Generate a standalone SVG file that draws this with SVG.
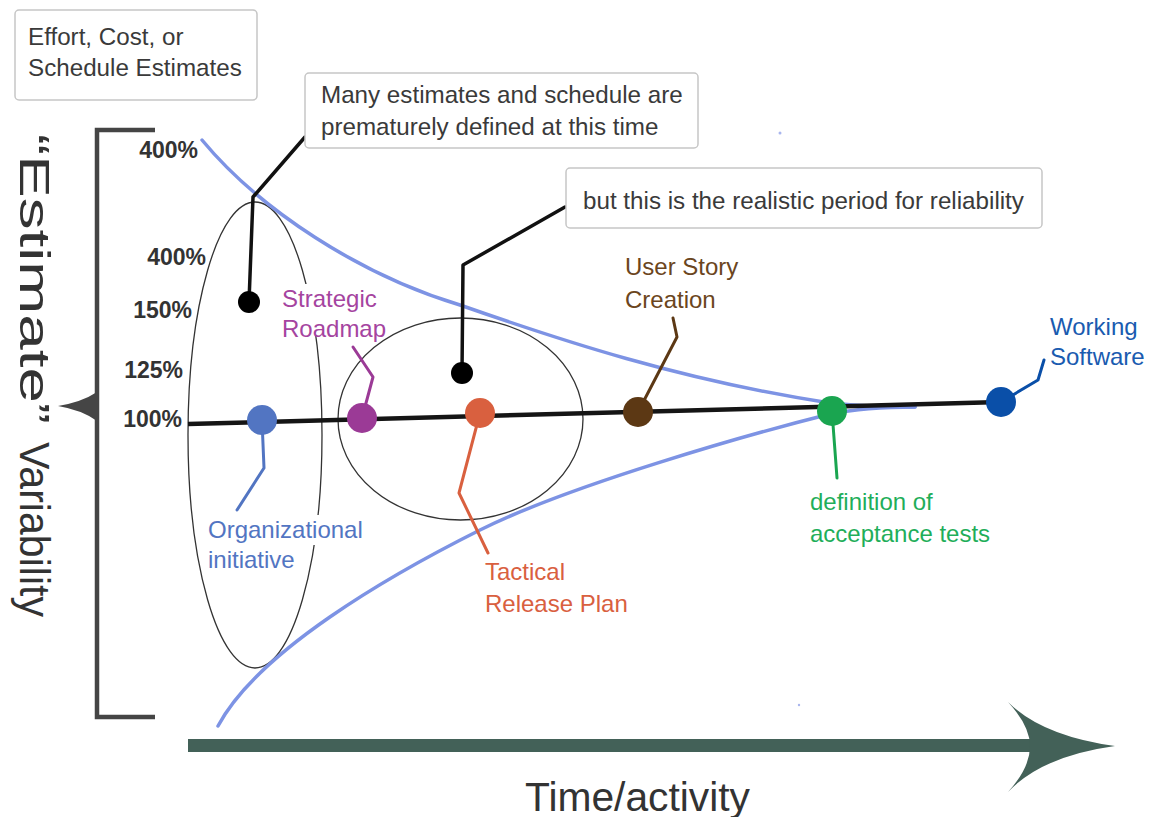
<svg xmlns="http://www.w3.org/2000/svg" width="1154" height="817" viewBox="0 0 1154 817">
  <style>
    text { font-family: "Liberation Sans", Arial, sans-serif; }
    .box { fill: #fff; stroke: #c6c6c6; stroke-width: 1.5; }
    .note { font-size: 24.2px; fill: #3a3a3a; }
    .pct { font-size: 23px; font-weight: bold; fill: #333; text-anchor: end; }
    .lbl { font-size: 24px; }
    .ring { fill: none; stroke: #333; stroke-width: 1.3; }
    .cone { fill: none; stroke: #7d93e4; stroke-width: 3.5; stroke-linecap: round; }
    .lead { fill: none; stroke-width: 3; stroke-linejoin: round; stroke-linecap: round; }
    .blackLead { fill: none; stroke: #111; stroke-width: 3.5; stroke-linejoin: round; stroke-linecap: round; }
    .axisTitle { font-size: 42px; fill: #333; }
    .bg { fill: #fff; }
  </style>

  <!-- vertical scale bracket and its label -->
  <g id="y-axis">
    <path d="M155,130 L97,130 L97,717 L155,717" fill="none" stroke="#454545" stroke-width="4.5"/>
    <path d="M97,392 Q82,402 58,406 Q82,410 97,421 Z" fill="#454545"/>
    <text class="axisTitle" transform="translate(20,0) rotate(90)">
      <tspan x="134" y="0" textLength="290" lengthAdjust="spacingAndGlyphs">“Estimate”</tspan>
      <tspan x="442" y="0" textLength="175" lengthAdjust="spacingAndGlyphs">Variability</tspan>
    </text>
    <text class="pct" x="198" y="158">400%</text>
    <text class="pct" x="206" y="265">400%</text>
    <text class="pct" x="192" y="318">150%</text>
    <text class="pct" x="183" y="378">125%</text>
    <text class="pct" x="182" y="427">100%</text>
  </g>

  <!-- time axis -->
  <g id="x-axis">
    <rect x="188" y="739" width="842" height="13" fill="#436158"/>
    <path d="M1008,702 Q1042,736 1115,746 Q1042,756 1008,792 Q1030,768 1030,746 Q1030,726 1008,702 Z" fill="#436158"/>
    <text x="525" y="811" font-size="40" fill="#333" textLength="225" lengthAdjust="spacingAndGlyphs">Time/activity</text>
  </g>

  <!-- estimate legend box -->
  <g id="legend">
    <rect class="box" x="15" y="10" width="242" height="90" rx="4"/>
    <text class="note" x="28" y="45">Effort, Cost, or</text>
    <text class="note" x="28" y="76">Schedule Estimates</text>
  </g>

  <!-- periods -->
  <g id="early-period">
    <ellipse class="ring" cx="255" cy="435" rx="67" ry="233"/>
  </g>
  <g id="realistic-period">
    <ellipse class="ring" cx="460.5" cy="419" rx="122.5" ry="101"/>
  </g>

  <!-- label backdrops -->
  <rect class="bg" x="279" y="284" width="108" height="52"/>
  <rect class="bg" x="205" y="515" width="160" height="30"/>

  <!-- cone of uncertainty -->
  <g id="cone">
    <path class="cone" d="M202,140 C260,210 360,275 460,305 C560,340 680,380 830,403 C860,406 890,407 915,407"/>
    <path class="cone" d="M218,726 C258,651 390,575 480,530 C570,485 750,434 830,414 C860,408 890,407 915,407"/>
  </g>

  <!-- connectors -->
  <g id="connectors">
    <path d="M188,424 L1001,402" stroke="#151515" stroke-width="4.5" fill="none"/>
    <path class="blackLead" d="M305,137 L253,197 L249,302"/>
    <path class="blackLead" d="M565,207 L463,265 L462,373"/>
    <path class="lead" stroke="#5275c2" d="M262,420 L264,468 L237,510"/>
    <path class="lead" stroke="#9b3a96" d="M362,418 L373,377 L353,347"/>
    <path class="lead" stroke="#d9603f" d="M480,413 L459,493 L488,553"/>
    <path class="lead" stroke="#5c3814" d="M638,412 L677,337 L673,318"/>
    <path class="lead" stroke="#1aa550" d="M832,411 L837,478"/>
    <path class="lead" stroke="#0a4fa8" d="M1001,402 L1038,380 L1044,360"/>
  </g>

  <!-- callouts -->
  <g id="callout-premature">
    <rect class="box" x="305" y="73" width="393" height="75" rx="4"/>
    <text class="note" x="321" y="103">Many estimates and schedule are</text>
    <text class="note" x="321" y="135">prematurely defined at this time</text>
    <circle cx="249" cy="302" r="11" fill="#000"/>
  </g>
  <g id="callout-realistic">
    <rect class="box" x="566" y="168" width="476" height="60" rx="4"/>
    <text class="note" x="583" y="209">but this is the realistic period for reliability</text>
    <circle cx="462" cy="373" r="11" fill="#000"/>
  </g>

  <!-- milestones -->
  <g id="organizational-initiative">
    <circle cx="262" cy="420" r="15" fill="#5275c2"/>
    <text class="lbl" fill="#5275c2" x="208" y="538">Organizational</text>
    <text class="lbl" fill="#5275c2" x="208" y="568">initiative</text>
  </g>
  <g id="strategic-roadmap">
    <circle cx="362" cy="418" r="15" fill="#9b3a96"/>
    <text class="lbl" fill="#a544a0" x="282" y="307">Strategic</text>
    <text class="lbl" fill="#a544a0" x="282" y="337">Roadmap</text>
  </g>
  <g id="tactical-release-plan">
    <circle cx="480" cy="413" r="15" fill="#d9603f"/>
    <text class="lbl" fill="#d9603f" x="485" y="580">Tactical</text>
    <text class="lbl" fill="#d9603f" x="485" y="612">Release Plan</text>
  </g>
  <g id="user-story-creation">
    <circle cx="638" cy="412" r="15" fill="#5c3814"/>
    <text class="lbl" fill="#6b4520" x="625" y="275">User Story</text>
    <text class="lbl" fill="#6b4520" x="625" y="308">Creation</text>
  </g>
  <g id="acceptance-tests">
    <circle cx="832" cy="411" r="15" fill="#1aa550"/>
    <text class="lbl" fill="#1fae5a" x="810" y="510">definition of</text>
    <text class="lbl" fill="#1fae5a" x="810" y="542">acceptance tests</text>
  </g>
  <g id="working-software">
    <circle cx="1001" cy="402" r="15" fill="#0a4fa8"/>
    <text class="lbl" fill="#1a5bb0" x="1050" y="335">Working</text>
    <text class="lbl" fill="#1a5bb0" x="1050" y="365">Software</text>
  </g>

  <!-- stray marks -->
  <circle cx="780" cy="133" r="1.5" fill="#a9b6ee"/>
  <circle cx="799" cy="705" r="1.2" fill="#a9b6ee"/>
</svg>
